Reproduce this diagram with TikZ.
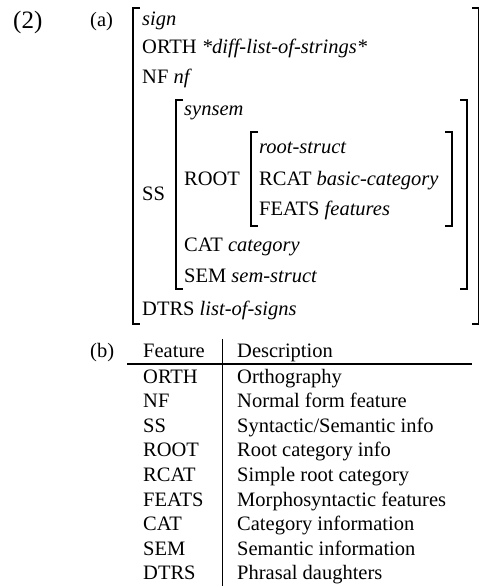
\documentclass[tikz,border=0pt]{standalone}
\usepackage{fontspec}
\setmainfont{Liberation Serif}
\usetikzlibrary{positioning}

\tikzset{
  lbl/.style={anchor=base west, inner sep=0pt, font=\fontsize{20.5}{22}\selectfont},
  brak/.style={line width=1.7pt},
  rule/.style={line width=1.8pt}
}

\begin{document}
\begin{tikzpicture}[x=1pt,y=-1pt]
        \useasboundingbox (0,0) rectangle (480,586);
        % example numbers
        \node[lbl, font=\fontsize{25}{27}\selectfont] (exnum) at (13,29) {(2)};
        \node[lbl] (parta) at (90,27) {(a)};
        \node[lbl] (partb) at (90,357) {(b)};
        % outer sign
        \node[lbl] (sign)  at (142,26)  {\textit{sign}};
        \node[lbl] (orth)  at (142,54)  {ORTH \textit{*diff-list-of-strings*}};
        \node[lbl] (nf)    at (142,83)  {NF \textit{nf}};
        \node[lbl] (ss)    at (142,200) {SS};
        \node[lbl] (dtrs)  at (142,315) {DTRS \textit{list-of-signs}};
        \draw[brak] (140,8) -- (133,8) -- (133,324) -- (140,324);
        \draw[brak] (472,8) -- (478.5,8) -- (478.5,324) -- (472,324);
        % synsem
        \node[lbl] (synsem) at (184,115) {\textit{synsem}};
        \node[lbl] (root)   at (184,185) {ROOT};
        \node[lbl] (cat)    at (184,251) {CAT \textit{category}};
        \node[lbl] (sem)    at (184,282) {SEM \textit{sem-struct}};
        \draw[brak] (183,100) -- (176,100) -- (176,289) -- (183,289);
        \draw[brak] (460,100) -- (467,100) -- (467,289) -- (460,289);
        % root-struct
        \node[lbl] (rstruct) at (259,153) {\textit{root-struct}};
        \node[lbl] (rcat)    at (259,185) {RCAT \textit{basic-category}};
        \node[lbl] (feats)   at (259,215) {FEATS \textit{features}};
        \draw[brak] (258,132) -- (251,132) -- (251,226) -- (258,226);
        \draw[brak] (445,132) -- (452,132) -- (452,226) -- (445,226);
        % feature table
        \node[lbl] (feathd) at (143,357) {Feature};
        \node[lbl] (deschd) at (237,357) {Description};
        \draw[rule] (127,364) -- (472,364);
        \draw[rule] (222.5,339) -- (222.5,586);
        \foreach \f/\d [count=\i] in {ORTH/Orthography, NF/Normal form feature,
            SS/{Syntactic/Semantic info}, ROOT/Root category info,
            RCAT/Simple root category, FEATS/Morphosyntactic features,
            CAT/Category information, SEM/Semantic information,
            DTRS/Phrasal daughters}
        {
            \node[lbl] (f\i) at (143,{383+(\i-1)*24.6}) {\f};
            \node[lbl] (d\i) at (237,{383+(\i-1)*24.6}) {\d};
        }
    \end{tikzpicture}
\end{document}
